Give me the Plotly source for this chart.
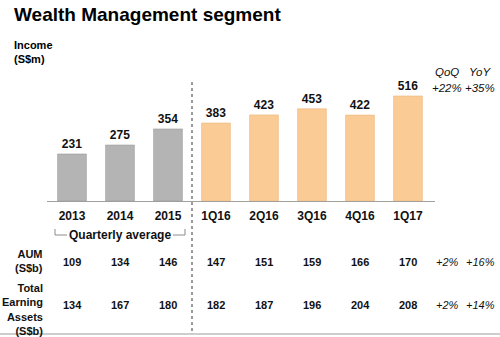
import plotly.graph_objects as go

categories = ["2013", "2014", "2015", "1Q16", "2Q16", "3Q16", "4Q16", "1Q17"]
income = [231, 275, 354, 383, 423, 453, 422, 516]
aum = [109, 134, 146, 147, 151, 159, 166, 170]
tea = [134, 167, 180, 182, 187, 196, 204, 208]
aum_growth = ["+2%", "+16%"]
tea_growth = ["+2%", "+14%"]
income_growth = ["+22%", "+35%"]
growth_headers = ["QoQ", "YoY"]

W, H = 500, 337
FONT = "Arial, Liberation Sans, sans-serif"

def py(pix):
    return 1 - pix / H

def xp(pix):
    return (pix - 72) / 48

grey = "#B4B4B4"
orange = "#FBCB96"
colors = [grey] * 3 + [orange] * 5
lines = ["#9C9C9C"] * 3 + ["#EDB57A"] * 5

fig = go.Figure()
fig.add_trace(go.Bar(
    x=categories, y=income, width=0.6,
    marker=dict(color=colors, line=dict(color=lines, width=0.6)),
    text=[str(v) for v in income], textposition="outside",
    textfont=dict(family=FONT, size=12, color="#111", weight="bold"),
    cliponaxis=False, hoverinfo="skip",
))

x_left, x_right = 47, 435
base = 201
scale = 0.2035
ytop = base / scale

fig.update_layout(
    width=W, height=H,
    margin=dict(l=0, r=0, t=0, b=0),
    paper_bgcolor="white", plot_bgcolor="rgba(0,0,0,0)",
    showlegend=False,
    xaxis=dict(
        type="category", categoryorder="array", categoryarray=categories,
        domain=[x_left / W, x_right / W],
        range=[xp(x_left), xp(x_right)],
        showline=True, linecolor="#A0A0A0", linewidth=1,
        showgrid=False, ticks="", ticklabelstandoff=4,
        tickfont=dict(family=FONT, size=12, color="#111", weight="bold"),
        anchor="y",
    ),
    yaxis=dict(
        domain=[py(base), 1], range=[0, ytop],
        showgrid=False, showticklabels=False, zeroline=False, showline=False,
    ),
)

def A(text, x, y, xref="paper", xanchor="center", align="center", size=11, weight="bold", style="normal", color="#111"):
    return dict(text=text, x=x, y=y, xref=xref, yref="paper", xanchor=xanchor, yanchor="middle",
                align=align, showarrow=False,
                font=dict(family=FONT, size=size, color=color, weight=weight, style=style))

ann = []
ann.append(A("Wealth Management segment", 12 / W, py(15), xanchor="left", align="left", size=19, color="#000"))
ann.append(A("Income<br>(S$m)", 12 / W, py(52), xanchor="left", align="left", size=11, color="#000"))

gx = [447, 480]
for i in range(2):
    ann.append(A(growth_headers[i], gx[i] / W, py(72), size=11.5, weight="normal", style="italic"))
    ann.append(A(income_growth[i], gx[i] / W, py(88), size=11.5, weight="normal", style="italic"))

ann.append(A("Quarterly average", 1, py(235), xref="x", size=12))

ann.append(A("AUM<br>(S$b)", 45 / W, py(261), xanchor="right", align="right"))
ann.append(A("Total<br>Earning<br>Assets<br>(S$b)", 45 / W, py(309), xanchor="right", align="right"))
for i, (a, t) in enumerate(zip(aum, tea)):
    ann.append(A(str(a), i, py(262), xref="x"))
    ann.append(A(str(t), i, py(305), xref="x"))
for i in range(2):
    ann.append(A(aum_growth[i], gx[i] / W, py(262), weight="normal", style="italic"))
    ann.append(A(tea_growth[i], gx[i] / W, py(305), weight="normal", style="italic"))
fig.update_layout(annotations=ann)

shapes = []
shapes.append(dict(type="line", xref="x", yref="paper", x0=2.5, x1=2.5, y0=py(82), y1=py(333),
                   line=dict(color="#9A9A9A", width=2, dash="dot")))
for (xa, xb, xv) in [(55, 67, 55), (173, 185, 185)]:
    shapes.append(dict(type="line", xref="x", yref="paper", x0=xp(xa), x1=xp(xb), y0=py(235), y1=py(235),
                       line=dict(color="#8C8C8C", width=1)))
    shapes.append(dict(type="line", xref="x", yref="paper", x0=xp(xv), x1=xp(xv), y0=py(229), y1=py(235),
                       line=dict(color="#8C8C8C", width=1)))
shapes.append(dict(type="line", xref="paper", yref="paper", x0=0, x1=1, y0=py(334), y1=py(334),
                   line=dict(color="#BDBDBD", width=1.5)))
fig.update_layout(shapes=shapes)

fig.write_html("out.html")
